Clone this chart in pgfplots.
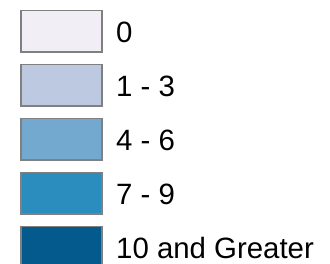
\documentclass[border=0pt]{standalone}
\usepackage{fontspec}
\setmainfont{Liberation Sans}
\usepackage{pgfplots}
\pgfplotsset{compat=1.18}
\definecolor{c0}{HTML}{F1EEF6}
\definecolor{c1}{HTML}{BDC9E1}
\definecolor{c2}{HTML}{74A9CF}
\definecolor{c3}{HTML}{2B8CBE}
\definecolor{c4}{HTML}{045A8D}
\definecolor{bord}{HTML}{808080}
\tikzset{mylab/.style={anchor=west, font=\fontsize{29.5}{31}\selectfont, inner sep=0pt}}
\begin{document}
\begin{tikzpicture}
\begin{axis}[
  hide axis, scale only axis,
  width=330bp, height=264bp,
  xmin=0, xmax=330, ymin=0, ymax=264,
  y dir=reverse, clip=true,
  every axis plot/.append style={draw=bord, line width=1.2bp},
]
\path (axis cs:0,0) rectangle (axis cs:330,264);
\addplot[fill=c0] coordinates {(21,10.5) (102,10.5) (102,52) (21,52)} -- cycle;
\addplot[fill=c1] coordinates {(21,64.5) (102,64.5) (102,106) (21,106)} -- cycle;
\addplot[fill=c2] coordinates {(21,118.5) (102,118.5) (102,160) (21,160)} -- cycle;
\addplot[fill=c3] coordinates {(21,172.5) (102,172.5) (102,214) (21,214)} -- cycle;
\addplot[fill=c4] coordinates {(21,226.5) (102,226.5) (102,268) (21,268)} -- cycle;
\node[mylab] at (axis cs:116,32) {0};
\node[mylab] at (axis cs:116,86) {1 - 3};
\node[mylab] at (axis cs:116,140) {4 - 6};
\node[mylab] at (axis cs:116,194) {7 - 9};
\node[mylab] at (axis cs:116,248) {10 and Greater};
\end{axis}
\end{tikzpicture}
\end{document}
